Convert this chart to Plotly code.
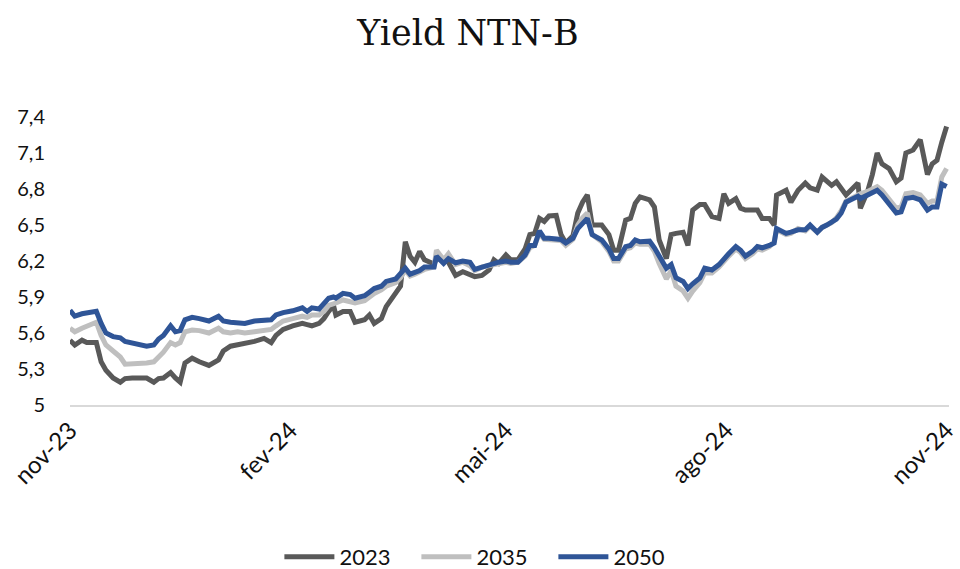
import plotly.graph_objects as go

dates = [
    "2023-11-01", "2023-11-03", "2023-11-06", "2023-11-08", "2023-11-12", "2023-11-14",
    "2023-11-16", "2023-11-19", "2023-11-22", "2023-11-24", "2023-11-27", "2023-11-30",
    "2023-12-03", "2023-12-06", "2023-12-08", "2023-12-10", "2023-12-13", "2023-12-15",
    "2023-12-17", "2023-12-19", "2023-12-22", "2023-12-25", "2023-12-29", "2024-01-02",
    "2024-01-04", "2024-01-07", "2024-01-10", "2024-01-13", "2024-01-17", "2024-01-21",
    "2024-01-24", "2024-01-26", "2024-01-29", "2024-02-02", "2024-02-06", "2024-02-08",
    "2024-02-10", "2024-02-13", "2024-02-15", "2024-02-17", "2024-02-19", "2024-02-20",
    "2024-02-23", "2024-02-26", "2024-02-28", "2024-03-03", "2024-03-05", "2024-03-07",
    "2024-03-10", "2024-03-12", "2024-03-16", "2024-03-18", "2024-03-20", "2024-03-22",
    "2024-03-24", "2024-03-26", "2024-03-28", "2024-04-01", "2024-04-02", "2024-04-05",
    "2024-04-07", "2024-04-10", "2024-04-13", "2024-04-16", "2024-04-18", "2024-04-21",
    "2024-04-24", "2024-04-26", "2024-04-28", "2024-05-01", "2024-05-03", "2024-05-06",
    "2024-05-09", "2024-05-11", "2024-05-13", "2024-05-15", "2024-05-17", "2024-05-19",
    "2024-05-22", "2024-05-24", "2024-05-26", "2024-05-29", "2024-05-31", "2024-06-02",
    "2024-06-04", "2024-06-06", "2024-06-10", "2024-06-13", "2024-06-15", "2024-06-17",
    "2024-06-20", "2024-06-22", "2024-06-24", "2024-06-26", "2024-06-30", "2024-07-02",
    "2024-07-04", "2024-07-07", "2024-07-09", "2024-07-11", "2024-07-14", "2024-07-16",
    "2024-07-18", "2024-07-21", "2024-07-23", "2024-07-26", "2024-07-29", "2024-07-31",
    "2024-08-02", "2024-08-05", "2024-08-07", "2024-08-09", "2024-08-12", "2024-08-14",
    "2024-08-16", "2024-08-19", "2024-08-21", "2024-08-22", "2024-08-26", "2024-08-28",
    "2024-08-31", "2024-09-03", "2024-09-05", "2024-09-08", "2024-09-10", "2024-09-12",
    "2024-09-14", "2024-09-16", "2024-09-18", "2024-09-20", "2024-09-22", "2024-09-25",
    "2024-09-26", "2024-09-29", "2024-10-01", "2024-10-03", "2024-10-05", "2024-10-08",
    "2024-10-11", "2024-10-13", "2024-10-15", "2024-10-18", "2024-10-21", "2024-10-24",
    "2024-10-26", "2024-10-28", "2024-10-30", "2024-11-01",
]

ntnb_2023 = [
    5.54, 5.50, 5.54, 5.52, 5.52, 5.36,
    5.29, 5.225, 5.19, 5.22, 5.225, 5.225,
    5.225, 5.19, 5.22, 5.225, 5.27, 5.225,
    5.19, 5.35, 5.39, 5.36, 5.33, 5.375,
    5.45, 5.49, 5.50, 5.51, 5.53, 5.555,
    5.52, 5.58, 5.63, 5.66, 5.68, 5.67,
    5.66, 5.68, 5.72, 5.78, 5.83, 5.75,
    5.78, 5.78, 5.69, 5.71, 5.75, 5.68,
    5.72, 5.82, 5.93, 5.99, 6.36, 6.24,
    6.19, 6.28, 6.21, 6.175, 6.22, 6.21,
    6.19, 6.08, 6.11, 6.09, 6.07, 6.08,
    6.125, 6.21, 6.18, 6.25, 6.21, 6.21,
    6.30, 6.42, 6.43, 6.555, 6.53, 6.575,
    6.58, 6.42, 6.35, 6.41, 6.60, 6.69,
    6.75, 6.50, 6.50, 6.42, 6.29, 6.29,
    6.54, 6.555, 6.68, 6.735, 6.71, 6.65,
    6.375, 6.22, 6.42, 6.43, 6.44, 6.33,
    6.625, 6.67, 6.67, 6.57, 6.555, 6.76,
    6.68, 6.72, 6.64, 6.625, 6.62, 6.625,
    6.555, 6.555, 6.50, 6.75, 6.79, 6.69,
    6.79, 6.85, 6.81, 6.79, 6.90, 6.86,
    6.83, 6.86, 6.81, 6.75, 6.79, 6.85,
    6.64, 6.78, 6.92, 7.10, 7.01, 6.97,
    6.86, 6.89, 7.10, 7.125, 7.21, 6.92,
    7.01, 7.04, 7.19, 7.32,
]

ntnb_2035 = [
    5.64, 5.61, 5.64, 5.66, 5.69, 5.58,
    5.50, 5.45, 5.40, 5.34, 5.34, 5.35,
    5.35, 5.36, 5.40, 5.44, 5.52, 5.50,
    5.52, 5.61, 5.625, 5.62, 5.60, 5.64,
    5.61, 5.60, 5.61, 5.60, 5.61, 5.62,
    5.63, 5.66, 5.70, 5.72, 5.74, 5.73,
    5.75, 5.75, 5.78, 5.83, 5.84, 5.85,
    5.875, 5.86, 5.85, 5.87, 5.90, 5.93,
    5.96, 5.99, 6.02, 6.06, 6.125, 6.075,
    6.09, 6.11, 6.13, 6.15, 6.29, 6.21,
    6.26, 6.17, 6.19, 6.16, 6.12, 6.15,
    6.16, 6.17, 6.18, 6.19, 6.18, 6.19,
    6.24, 6.31, 6.33, 6.43, 6.38, 6.38,
    6.38, 6.37, 6.33, 6.38, 6.50, 6.56,
    6.60, 6.42, 6.36, 6.28, 6.20, 6.20,
    6.30, 6.31, 6.35, 6.34, 6.34, 6.28,
    6.18, 6.05, 6.12, 5.99, 5.95, 5.89,
    5.95, 6.02, 6.10, 6.10, 6.15, 6.20,
    6.24, 6.30, 6.27, 6.22, 6.26, 6.30,
    6.29, 6.32, 6.36, 6.46, 6.42, 6.43,
    6.47, 6.45, 6.49, 6.44, 6.48, 6.50,
    6.52, 6.56, 6.62, 6.70, 6.72, 6.76,
    6.76, 6.78, 6.80, 6.82, 6.79, 6.72,
    6.64, 6.65, 6.76, 6.77, 6.75, 6.68,
    6.70, 6.70, 6.90, 6.97,
]

ntnb_2050 = [
    5.79, 5.74, 5.76, 5.77, 5.78, 5.68,
    5.60, 5.57, 5.56, 5.53, 5.52, 5.50,
    5.49, 5.50, 5.55, 5.58, 5.66, 5.61,
    5.62, 5.71, 5.73, 5.72, 5.70, 5.74,
    5.70, 5.69, 5.69, 5.68, 5.70, 5.71,
    5.71, 5.75, 5.77, 5.785, 5.81, 5.78,
    5.81, 5.80, 5.85, 5.89, 5.90, 5.89,
    5.93, 5.92, 5.89, 5.91, 5.94, 5.97,
    5.99, 6.03, 6.05, 6.09, 6.14, 6.09,
    6.10, 6.12, 6.15, 6.15, 6.24, 6.18,
    6.22, 6.185, 6.20, 6.19, 6.13, 6.15,
    6.17, 6.18, 6.19, 6.20, 6.19, 6.19,
    6.25, 6.33, 6.33, 6.45, 6.39, 6.39,
    6.39, 6.38, 6.35, 6.39, 6.47, 6.51,
    6.555, 6.42, 6.375, 6.30, 6.22, 6.22,
    6.32, 6.33, 6.375, 6.36, 6.365, 6.31,
    6.24, 6.14, 6.17, 6.06, 6.03, 5.97,
    6.01, 6.06, 6.14, 6.125, 6.17, 6.22,
    6.26, 6.32, 6.29, 6.24, 6.28, 6.32,
    6.31, 6.33, 6.35, 6.47, 6.43, 6.44,
    6.46, 6.46, 6.50, 6.44, 6.48, 6.50,
    6.52, 6.55, 6.60, 6.69, 6.71, 6.74,
    6.72, 6.75, 6.77, 6.79, 6.75, 6.68,
    6.60, 6.61, 6.72, 6.73, 6.71, 6.625,
    6.65, 6.65, 6.84, 6.82,
]

series_names = ["2023", "2035", "2050"]
series_colors = ["#595959", "#BFBFBF", "#2F5597"]

y_tickvals = [5, 5.3, 5.6, 5.9, 6.2, 6.5, 6.8, 7.1, 7.4]
y_ticktext = ["5", "5,3", "5,6", "5,9", "6,2", "6,5", "6,8", "7,1", "7,4"]
x_tickvals = ["2023-11-01", "2024-02-01", "2024-05-01", "2024-08-01", "2024-11-01"]
x_ticktext = ["nov-23", "fev-24", "mai-24", "ago-24", "nov-24"]

fig = go.Figure()
for name, vals, color in zip(series_names, [ntnb_2023, ntnb_2035, ntnb_2050], series_colors):
    fig.add_trace(go.Scatter(
        x=dates, y=vals, name=name, mode="lines",
        line=dict(color=color, width=5),
        cliponaxis=False,
    ))

fig.update_layout(
    width=960, height=569,
    paper_bgcolor="white", plot_bgcolor="white",
    margin=dict(l=70, r=11, t=117, b=164, autoexpand=False),
    title=dict(
        text="Yield NTN-B", x=0.4875, xanchor="center",
        y=0.943, yanchor="middle", yref="container",
        font=dict(family="DejaVu Serif", size=35, color="#111111"),
    ),
    font=dict(family="Lato", color="#262626"),
    showlegend=True,
    legend=dict(
        orientation="h", x=0.472, xanchor="center",
        y=0.021, yanchor="middle", yref="container",
        font=dict(family="Lato", size=22, color="#111111"),
        itemwidth=50, entrywidth=72, entrywidthmode="pixels",
    ),
    xaxis=dict(
        type="date",
        range=["2023-11-01", "2024-11-02"],
        tickvals=x_tickvals, ticktext=x_ticktext,
        tickangle=-45,
        tickfont=dict(family="Lato", size=24, color="#111111"),
        showgrid=False, zeroline=False,
        showline=True, linecolor="#D9D9D9", linewidth=1.5,
        ticks="", ticklabelstandoff=0, ticklabeloverflow="allow",
    ),
    yaxis=dict(
        range=[5, 7.4],
        tickvals=y_tickvals, ticktext=y_ticktext,
        tickfont=dict(family="Lato", size=20, color="#111111"),
        showgrid=False, zeroline=False, showline=False,
        ticks="", ticklen=0, ticklabelstandoff=24,
    ),
)

fig.write_html(
    "out.html",
    config={"displayModeBar": False},
    post_script="document.body.style.margin='0';",
)
